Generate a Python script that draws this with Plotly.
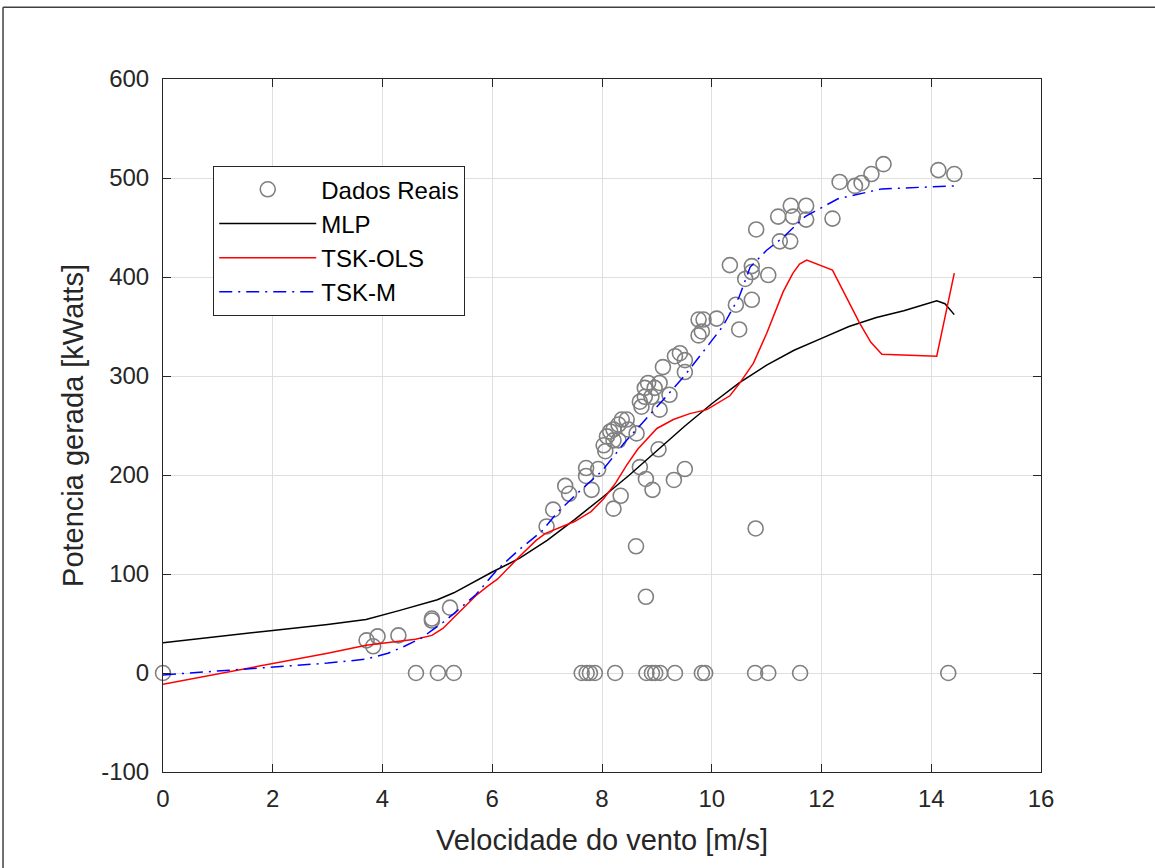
import plotly.graph_objects as go

# ---- Data ----
real_x = [0, 4.61, 5.01, 5.30, 7.63, 7.72, 7.78, 7.87, 8.24, 8.81, 8.91, 8.97, 9.06, 9.33,
          9.82, 9.88, 10.79, 11.03, 11.61, 14.31,
          3.71, 3.83, 3.91, 4.29, 4.90, 4.90, 5.23,
          6.99, 7.11, 7.33, 7.40, 7.71, 7.71, 7.81, 7.93, 8.21, 8.34, 8.62, 8.69, 8.80, 8.92,
          9.03, 8.80, 9.31, 9.51, 10.80,
          8.03, 8.06, 8.09, 8.15, 8.21, 8.21, 8.30, 8.30, 8.36, 8.45, 8.48, 8.63, 8.69, 8.72,
          8.78, 8.78, 8.84, 8.90, 8.96, 9.05, 9.05, 9.11, 9.23, 9.33, 9.42, 9.51, 9.51, 9.76,
          9.82, 9.76, 9.85, 10.09, 10.33, 10.73, 10.73, 10.61, 11.03, 10.44, 10.73, 10.50,
          11.24, 11.43, 10.81, 11.21, 11.44, 11.72, 11.48, 11.72, 12.20, 12.33, 12.61, 12.73,
          12.91, 13.13, 14.13, 14.42]
real_y = [0, 0, 0, 0, 0, 0, 0, 0, 0, 0, 0, 0, 0, 0,
          0, 0, 0, 0, 0, 0,
          33, 27, 37, 38, 55, 53, 66,
          148, 165, 189, 181, 207, 199, 185, 206, 166, 179, 128, 208, 196, 185,
          226, 77, 195, 206, 146,
          230, 224, 239, 244, 235, 246, 251, 235, 256, 256, 246, 242, 274, 269,
          288, 279, 293, 279, 288, 293, 266, 309, 281, 320, 323, 316, 304, 341,
          345, 357, 357, 358, 412, 411, 405, 398, 402, 372, 377, 347,
          436, 436, 448, 461, 472, 472, 461, 458, 459, 496, 492, 495,
          504, 514, 508, 504]

mlp_x = [0, 1, 2, 3, 3.7, 4.3, 5.0, 5.3, 6.0, 6.5, 7.0, 7.5, 8.0, 8.5, 9.0, 9.5, 10.0,
         10.5, 11.0, 11.5, 12.0, 12.5, 13.0, 13.5, 14.1, 14.25, 14.42]
mlp_y = [30.6, 37, 43, 49, 54, 63, 74, 81, 102, 116, 134, 155, 177, 200, 225, 249, 272,
         293, 311, 326, 338, 350, 359, 366, 376, 373, 362]

ols_x = [0, 1, 2, 3, 3.7, 4.2, 4.6, 4.9, 5.1, 5.3, 5.5, 5.7, 5.9, 6.1, 6.5, 6.8, 6.97,
         7.2, 7.5, 7.8, 8.03, 8.25, 8.45, 8.65, 8.81, 9.0, 9.3, 9.6, 9.91, 10.1, 10.33,
         10.5, 10.76, 11.0, 11.12, 11.3, 11.48, 11.6, 11.73, 12.2, 12.7, 12.9, 13.1,
         14.1, 14.42]
ols_y = [-11.4, -1, 9, 20, 28, 31, 34, 38, 45, 56, 67, 78, 87, 95, 118, 134, 141,
         146, 153, 163, 176, 192, 210, 226, 236, 247, 256, 262, 266, 272, 280,
         292, 313, 343, 360, 385, 404, 413, 417, 407, 353, 334, 322,
         320, 404]

tskm_x = [0, 1, 2, 3, 3.7, 4.1, 4.4, 4.7, 4.9, 5.1, 5.3, 5.7, 6.1, 6.5, 6.9, 7.2, 7.6,
          8.0, 8.4, 8.8, 9.1, 9.5, 9.9, 10.2, 10.5, 10.7, 11.0, 11.3, 11.7, 12.3, 13.1, 14.42]
tskm_y = [-2, 2, 6, 10, 14, 20, 27, 35, 43, 51, 60, 79, 105, 125, 143, 163, 184,
          204, 232, 256, 275, 300, 328, 350, 380, 410, 427, 440, 461, 479, 489, 492]

x_ticks = [0, 2, 4, 6, 8, 10, 12, 14, 16]
x_ticklabels = ["0", "2", "4", "6", "8", "10", "12", "14", "16"]
y_ticks = [-100, 0, 100, 200, 300, 400, 500, 600]
y_ticklabels = ["-100", "0", "100", "200", "300", "400", "500", "600"]

FONT = "Liberation Sans, Arial, Helvetica, sans-serif"
AX = "#262626"

fig = go.Figure()
fig.add_trace(go.Scatter(x=real_x, y=real_y, mode="markers", name="Dados Reais",
                         legendgroup="a", cliponaxis=False,
                         marker=dict(symbol="circle-open", size=15, color="#808080",
                                     line=dict(width=1.6, color="#808080"))))
fig.add_trace(go.Scatter(x=mlp_x, y=mlp_y, mode="lines", name="MLP", legendgroup="b",
                         line=dict(color="black", width=1.5)))
fig.add_trace(go.Scatter(x=ols_x, y=ols_y, mode="lines", name="TSK-OLS", legendgroup="c",
                         line=dict(color="red", width=1.5)))
fig.add_trace(go.Scatter(x=tskm_x, y=tskm_y, mode="lines", name="TSK-M", legendgroup="d",
                         line=dict(color="blue", width=1.5, dash="13px,6px,2px,6px")))

axis_common = dict(showgrid=True, gridcolor="#dfdfdf", gridwidth=1, zeroline=False,
                   showline=True, linecolor=AX, linewidth=1, mirror="ticks",
                   ticks="inside", ticklen=8, tickcolor=AX,
                   tickfont=dict(family=FONT, size=24, color=AX))

fig.update_layout(
    width=1155, height=868,
    margin=dict(l=163, r=114, t=79, b=96),
    paper_bgcolor="white", plot_bgcolor="white",
    font=dict(family=FONT, color=AX),
    xaxis=dict(range=[0, 16], tickvals=x_ticks, ticktext=x_ticklabels, ticklabelstandoff=5,
               title=dict(text="Velocidade do vento [m/s]", font=dict(size=29, family=FONT, color=AX), standoff=18),
               **axis_common),
    yaxis=dict(range=[-100, 600], tickvals=y_ticks, ticktext=y_ticklabels, ticklabelstandoff=8,
               title=dict(text="Potencia gerada [kWatts]", font=dict(size=29, family=FONT, color=AX), standoff=9),
               **axis_common),
    legend=dict(x=0.057, y=0.8745, xanchor="left", yanchor="top",
                bgcolor="white", bordercolor=AX, borderwidth=1.2,
                font=dict(family=FONT, size=24, color="black"),
                traceorder="grouped", tracegroupgap=0, itemwidth=97),
    showlegend=True,
)

# outer figure frame (top and left edges visible in the reference)
fig.add_shape(type="line", xref="paper", yref="paper", x0=-0.1822, x1=1.2, y0=1.1035, y1=1.1035,
              line=dict(color="#404040", width=1.5))
fig.add_shape(type="line", xref="paper", yref="paper", x0=-0.1822, x1=-0.1822, y0=-0.2, y1=1.1035,
              line=dict(color="#404040", width=1.5))

fig.write_html("out.html")
